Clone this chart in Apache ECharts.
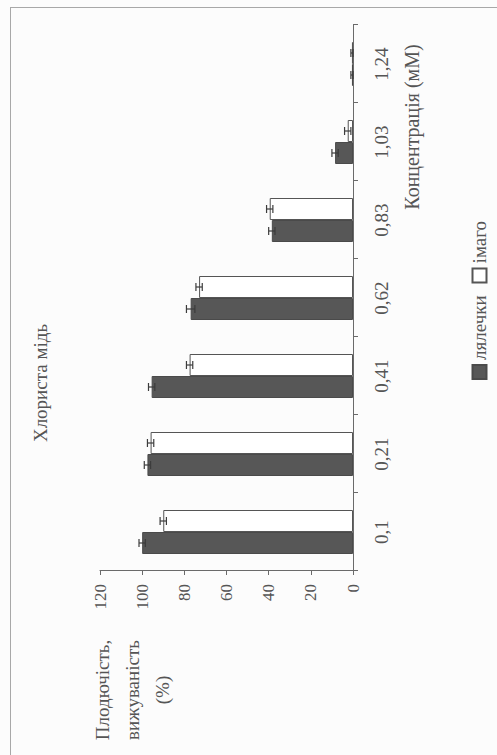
<!DOCTYPE html>
<html>
<head>
<meta charset="utf-8">
<script src="https://cdn.jsdelivr.net/npm/echarts@6/dist/echarts.min.js"></script>
<style>
  html, body { margin:0; padding:0; width:497px; height:755px; overflow:hidden; background:#fcfcfc; }
  #frame { position:absolute; left:10px; top:7px; right:-2px; bottom:-2px; border-left:1px solid #a8a8a8; border-top:1px solid #a8a8a8; }
  #chart { position:absolute; left:0; top:0; width:755px; height:497px; transform-origin:0 0; transform:translate(0,755px) rotate(-90deg); }
</style>
</head>
<body>
<div id="frame"></div>
<div id="chart"></div>
<script>
// ---- data ----
const categories = ['0,1', '0,21', '0,41', '0,62', '0,83', '1,03', '1,24'];
const seriesNames = ['лялечки', 'імаго'];
const pupae = [100, 97.5, 95.5, 77, 38.5, 8.5, 0.5];     // лялечки
const imago = [90, 96, 77.5, 73, 39.5, 2.5, 0.5];        // імаго
const pupaeErr = [1.5, 1.5, 1.5, 2, 1.5, 1.5, 0.5];
const imagoErr = [1.5, 1.5, 1.5, 1.5, 1.5, 1.5, 0.5];
const valueMin = 0, valueMax = 120, valueStep = 20;
const titleText = 'Хлориста мідь';
const xName = 'Концентрація (мМ)';
const yName = 'Плодючість,\nвижуваність\n(%)';

// ---- style ----
const FONT = 'Liberation Serif, DejaVu Serif, serif';
const TXT = '#555';
const AX = '#6a6a6a';
const BAR_W = 22;

function errSeries(values, errs, side) {
  return {
    type: 'custom',
    silent: true,
    z: 10,
    data: values.map((v, i) => [i, v, errs[i]]),
    renderItem: function (params, api) {
      const i = api.value(0), v = api.value(1), e = api.value(2);
      const c = api.coord([i, v]);
      const lo = api.coord([i, v - e]);
      const hi = api.coord([i, v + e]);
      const x = c[0] + side * BAR_W / 2;
      const cap = 4;
      const st = { stroke: '#3c3c3c', lineWidth: 1.2 };
      return {
        type: 'group',
        children: [
          { type: 'line', shape: { x1: x, y1: lo[1], x2: x, y2: hi[1] }, style: st },
          { type: 'line', shape: { x1: x - cap, y1: hi[1], x2: x + cap, y2: hi[1] }, style: st },
          { type: 'line', shape: { x1: x - cap, y1: lo[1], x2: x + cap, y2: lo[1] }, style: st }
        ]
      };
    }
  };
}

const chart = echarts.init(document.getElementById('chart'), null, { renderer: 'svg', width: 755, height: 497 });
chart.setOption({
  animation: false,
  backgroundColor: 'transparent',
  textStyle: { fontFamily: FONT, color: TXT },
  grid: { left: 184, right: 25, top: 100, bottom: 144, containLabel: false },
  legend: {
    data: seriesNames,
    left: 370, top: 465,
    itemWidth: 14, itemHeight: 14, itemGap: 12,
    icon: 'rect',
    textStyle: { fontFamily: FONT, fontSize: 19, color: TXT }
  },
  xAxis: {
    type: 'category',
    data: categories,
    axisLine: { lineStyle: { color: AX, width: 1 } },
    axisTick: { show: true, length: 5, lineStyle: { color: AX } },
    axisLabel: { fontFamily: FONT, fontSize: 19, color: TXT, margin: 19 }
  },
  yAxis: {
    type: 'value',
    min: valueMin, max: valueMax, interval: valueStep,
    axisLine: { show: true, lineStyle: { color: AX, width: 1 } },
    axisTick: { show: true, length: 4, lineStyle: { color: AX } },
    splitLine: { show: false },
    axisLabel: { fontFamily: FONT, fontSize: 17, color: TXT, margin: 13 }
  },
  graphic: [
    { type: 'text', x: 372, y: 40, style: { text: titleText, fill: TXT, font: '19px ' + FONT, textAlign: 'center', textVerticalAlign: 'middle', align: 'center', verticalAlign: 'middle' } },
    { type: 'text', x: 628, y: 412, style: { text: xName, fill: TXT, font: '20px ' + FONT, textAlign: 'center', textVerticalAlign: 'middle', align: 'center', verticalAlign: 'middle' } },
    { type: 'text', x: 65, y: 132, style: { text: yName, fill: TXT, font: '19px ' + FONT, lineHeight: 30, textAlign: 'center', textVerticalAlign: 'middle', align: 'center', verticalAlign: 'middle' } }
  ],
  series: [
    {
      name: seriesNames[0], type: 'bar', data: pupae, barWidth: BAR_W, barGap: '0%',
      itemStyle: { color: '#575757', borderColor: '#4a4a4a', borderWidth: 1 }
    },
    {
      name: seriesNames[1], type: 'bar', data: imago, barWidth: BAR_W, barGap: '0%',
      itemStyle: { color: '#ffffff', borderColor: '#555', borderWidth: 1 }
    },
    errSeries(pupae, pupaeErr, -1),
    errSeries(imago, imagoErr, 1)
  ]
});
</script>
</body>
</html>
